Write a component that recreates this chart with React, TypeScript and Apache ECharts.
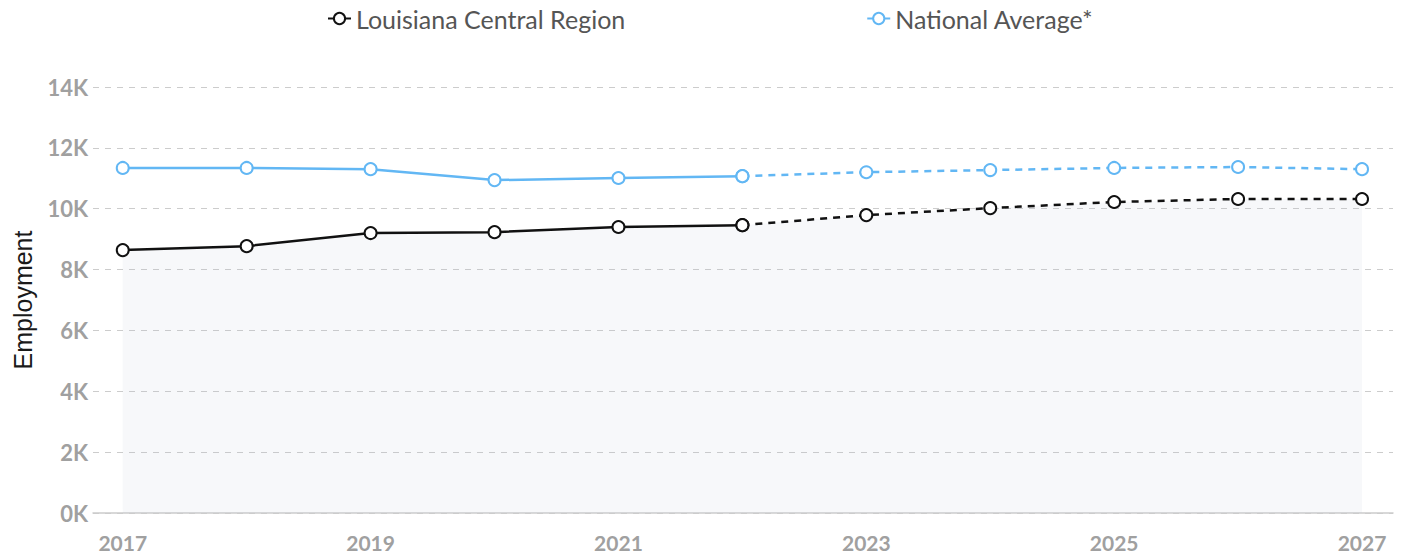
import React, { useEffect, useRef } from "react";
import * as echarts from "echarts";

const years = [2017, 2018, 2019, 2020, 2021, 2022, 2023, 2024, 2025, 2026, 2027];
const louisiana = [8640, 8770, 9200, 9230, 9400, 9460, 9790, 10020, 10220, 10320, 10320];
const national = [11340, 11340, 11300, 10940, 11010, 11070, 11200, 11270, 11340, 11370, 11300];
const lastActualIndex = 5; // 2022
const xLabelYears = [2017, 2019, 2021, 2023, 2025, 2027];
const yTicks = [0, 2000, 4000, 6000, 8000, 10000, 12000, 14000];

const FONT = "Lato, 'Noto Sans', sans-serif";
const BLACK = "#111111";
const BLUE = "#62b7f4";

function pairs(vals: number[], from: number, to: number) {
  const out: number[][] = [];
  for (let i = from; i <= to; i++) out.push([years[i], vals[i]]);
  return out;
}

export default function App() {
  const ref = useRef<HTMLDivElement>(null);
  useEffect(() => {
    if (!ref.current) return;
    const chart = echarts.init(ref.current, undefined, { renderer: "svg" });
    const last = years.length - 1;
    const symbol = {
      symbol: "emptyCircle",
      symbolSize: 12,
    };
    chart.setOption({
      animation: false,
      backgroundColor: "#ffffff",
      legend: {
        top: 1,
        left: 322,
        itemGap: 241,
        itemWidth: 23,
        itemHeight: 14,
        textStyle: { fontFamily: FONT, fontSize: 25, color: "#555555" },
        data: ["Louisiana Central Region", "National Average*"],
      },
      grid: { left: 93, right: 9, top: 87, bottom: 45, containLabel: false },
      xAxis: {
        type: "value",
        min: 2016.76,
        max: 2027.25,
        axisLine: { show: true, lineStyle: { color: "#cccccc", width: 1.5 } },
        axisTick: { show: false },
        splitLine: { show: false },
        axisLabel: {
          customValues: xLabelYears,
          formatter: (v: number) => String(v),
          fontFamily: FONT,
          fontSize: 21,
          fontWeight: "bold",
          color: "#a0a0a0",
          margin: 19,
        },
      },
      yAxis: {
        type: "value",
        min: 0,
        max: 14000,
        interval: 2000,
        name: "Employment",
        nameLocation: "middle",
        nameGap: 58,
        nameTextStyle: { fontFamily: "'Liberation Sans', Arial, sans-serif", fontSize: 25, color: "#1a1a1a" },
        axisLine: { show: false },
        axisTick: { show: false },
        axisLabel: {
          customValues: yTicks,
          formatter: (v: number) => `${v / 1000}K`,
          fontFamily: FONT,
          fontSize: 22,
          fontWeight: "bold",
          color: "#a0a0a0",
          margin: 5,
        },
        splitLine: { show: true, lineStyle: { color: "#cccccc", type: [6, 6], width: 1 } },
      },
      series: [
        {
          name: "Louisiana Central Region",
          type: "line",
          data: pairs(louisiana, 0, lastActualIndex),
          ...symbol,
          z: 3,
          lineStyle: { color: BLACK, width: 2.5 },
          itemStyle: { color: BLACK, borderWidth: 2.5 },
          areaStyle: { color: "rgba(180,190,205,0.15)", origin: "start" },
        },
        {
          name: "Louisiana Central Region",
          type: "line",
          data: pairs(louisiana, lastActualIndex, last),
          ...symbol,
          z: 3,
          lineStyle: { color: BLACK, width: 2.5, type: [7, 6] },
          itemStyle: { color: BLACK, borderWidth: 2.5 },
          areaStyle: { color: "rgba(180,190,205,0.15)", origin: "start" },
        },
        {
          name: "National Average*",
          type: "line",
          data: pairs(national, 0, lastActualIndex),
          ...symbol,
          z: 3,
          lineStyle: { color: BLUE, width: 2.5 },
          itemStyle: { color: BLUE, borderWidth: 2.5 },
        },
        {
          name: "National Average*",
          type: "line",
          data: pairs(national, lastActualIndex, last),
          ...symbol,
          z: 3,
          lineStyle: { color: BLUE, width: 2.5, type: [7, 6] },
          itemStyle: { color: BLUE, borderWidth: 2.5 },
        },
      ],
    });
    return () => chart.dispose();
  }, []);
  return (
    <div
      ref={ref}
      style={{ position: "absolute", left: 0, top: 0, width: 1402, height: 558 }}
    />
  );
}
